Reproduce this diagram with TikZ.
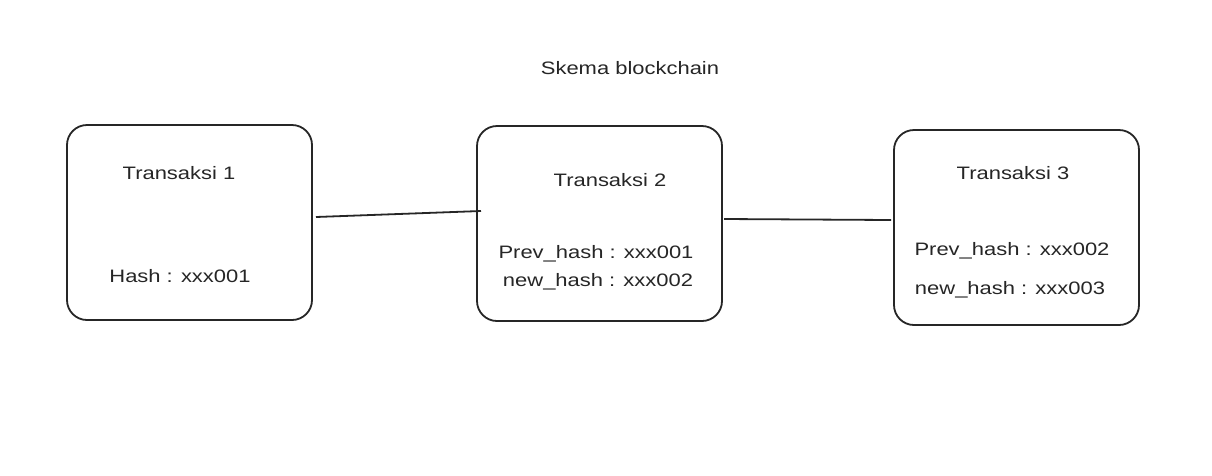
\documentclass[tikz,border=0pt]{standalone}
\usepackage{fontspec}
\setmainfont{Liberation Sans}[FakeStretch=1.22]
\begin{document}
\begin{tikzpicture}[x=1pt,y=-1pt,
  block/.style={draw=black!85,line width=1.8pt,rounded corners=20pt},
  lbl/.style={font=\fontsize{18}{21}\selectfont,text=black!85,inner sep=0pt},
  link/.style={draw=black!85,line width=1.8pt}]
\useasboundingbox (0,0) rectangle (1212,475);
\fill[white] (0,0) rectangle (1212,475);
\draw[block] (67,125) rectangle (312,320);
\draw[block] (477,126) rectangle (722,321);
\draw[block] (894,130) rectangle (1139,325);
\coordinate (b1e) at (316,217);
\coordinate (b2w) at (481,211);
\coordinate (b2e) at (724,219);
\coordinate (b3w) at (891,220);
\draw[link] (b1e) -- (b2w);
\draw[link] (b2e) -- (b3w);
\node[lbl] (title) at (630,68) {Skema blockchain};
\node[lbl] (t1) at (179,173) {Transaksi 1};
\node[lbl] (h1) at (180,276) {Hash : xxx001};
\node[lbl] (t2) at (610,180) {Transaksi 2};
\node[lbl] (p2) at (596,254) {Prev\_hash : xxx001};
\node[lbl] (n2) at (598,282) {new\_hash : xxx002};
\node[lbl] (t3) at (1013,173) {Transaksi 3};
\node[lbl] (p3) at (1012,251) {Prev\_hash : xxx002};
\node[lbl] (n3) at (1010,290) {new\_hash : xxx003};
\end{tikzpicture}
\end{document}
